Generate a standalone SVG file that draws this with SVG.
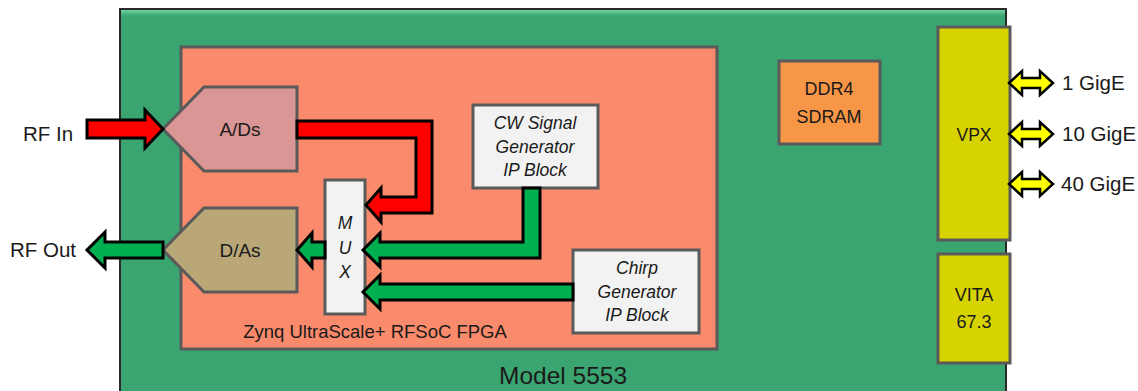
<svg xmlns="http://www.w3.org/2000/svg" width="1138" height="391" viewBox="0 0 1138 391">
<defs>
<linearGradient id="bevel" x1="0" y1="0" x2="0" y2="1">
<stop offset="0" stop-color="#6fd3a0"/>
<stop offset="1" stop-color="#3aa571"/>
</linearGradient>
</defs>
<style>
text{font-family:"Liberation Sans",Arial,sans-serif;fill:#1a1a1a;text-anchor:middle}
.box{stroke:#5a5a5a;stroke-width:3}
.ip{fill:#f2f2f2}
.it{font-style:italic;font-size:17.5px}
.conn{stroke:#000;stroke-width:3;stroke-linejoin:miter}
.red{fill:#ff0000}
.grn{fill:#00b050}
.yel{fill:#ffff00;stroke:#000;stroke-width:2.5}
.ext{font-size:20.5px}
</style>
<g id="board">
<rect x="120" y="9" width="886" height="392" fill="#3aa571" stroke="#2a2a2a" stroke-width="2"/>
<rect x="121" y="10" width="884" height="6" fill="url(#bevel)"/>
<text x="563" y="384" font-size="24.5">Model 5553</text>
</g>
<g id="fpga">
<rect class="box" x="181" y="47" width="536" height="302" fill="#f98a6b"/>
<text x="375" y="338" font-size="18.5">Zynq UltraScale+ RFSoC FPGA</text>
</g>
<g id="adc">
<polygon class="box" points="163,129 204,87 297,87 297,171 204,171" fill="#d99694"/>
<text x="240" y="136" font-size="19">A/Ds</text>
</g>
<g id="dac">
<polygon class="box" points="163,250 204,208 297,208 297,292 204,292" fill="#b9a777"/>
<text x="240" y="257" font-size="19">D/As</text>
</g>
<g id="mux">
<rect class="box ip" x="325" y="180" width="40" height="134"/>
<text class="it" x="345" y="229">M</text>
<text class="it" x="345" y="254">U</text>
<text class="it" x="345" y="278">X</text>
</g>
<g id="cw">
<rect class="box ip" x="473" y="105" width="125" height="83"/>
<text class="it" x="535" y="129">CW Signal</text>
<text class="it" x="535" y="153">Generator</text>
<text class="it" x="535" y="176">IP Block</text>
</g>
<g id="chirp">
<rect class="box ip" x="573" y="250" width="126" height="83"/>
<text class="it" x="637" y="274">Chirp</text>
<text class="it" x="637" y="298">Generator</text>
<text class="it" x="637" y="321">IP Block</text>
</g>
<g id="ddr4">
<rect class="box" x="779" y="61" width="101" height="83" fill="#f79646"/>
<text x="829" y="95" font-size="18">DDR4</text>
<text x="829" y="123" font-size="18">SDRAM</text>
</g>
<g id="vpx">
<rect class="box" x="938" y="27" width="72" height="213" fill="#d6d300"/>
<text x="974" y="141" font-size="17.5">VPX</text>
</g>
<g id="vita">
<rect class="box" x="938" y="254" width="72" height="109" fill="#d6d300"/>
<text x="974" y="301" font-size="18">VITA</text>
<text x="974" y="328" font-size="18">67.3</text>
</g>
<g id="rfin">
<text class="ext" x="48" y="141">RF In</text>
</g>
<g id="rfout">
<text class="ext" x="43" y="257">RF Out</text>
</g>
<g id="eth">
<text class="ext" x="1062" y="90" text-anchor="start" style="text-anchor:start">1 GigE</text>
<text class="ext" x="1062" y="141" style="text-anchor:start">10 GigE</text>
<text class="ext" x="1061" y="191" style="text-anchor:start">40 GigE</text>
</g>
<g id="connectors">
<polygon class="conn red" points="87,120 145,120 145,110 163,129 145,148 145,138 87,138"/>
<polygon class="conn grn" points="163,242 105,242 105,232 87,250 105,268 105,258 163,258"/>
<polygon class="conn red" points="297,121 432,121 432,213 381,213 381,222 366,205 381,188 381,197 416,197 416,138 297,138"/>
<polygon class="conn grn" points="325,242 312,242 312,233 297,250 312,267 312,258 325,258"/>
<polygon class="conn grn" points="523,188 540,188 540,258 380,258 380,267 363,250 380,233 380,242 523,242"/>
<polygon class="conn grn" points="573,284 380,284 380,275 363,292 380,309 380,300 573,300"/>
<polygon class="yel" points="1009,83 1022,71 1022,78 1040,78 1040,71 1053,83 1040,95 1040,88 1022,88 1022,95"/>
<polygon class="yel" points="1009,134 1022,122 1022,129 1040,129 1040,122 1053,134 1040,146 1040,139 1022,139 1022,146"/>
<polygon class="yel" points="1009,184 1022,172 1022,179 1040,179 1040,172 1053,184 1040,196 1040,189 1022,189 1022,196"/>
</g>
</svg>
